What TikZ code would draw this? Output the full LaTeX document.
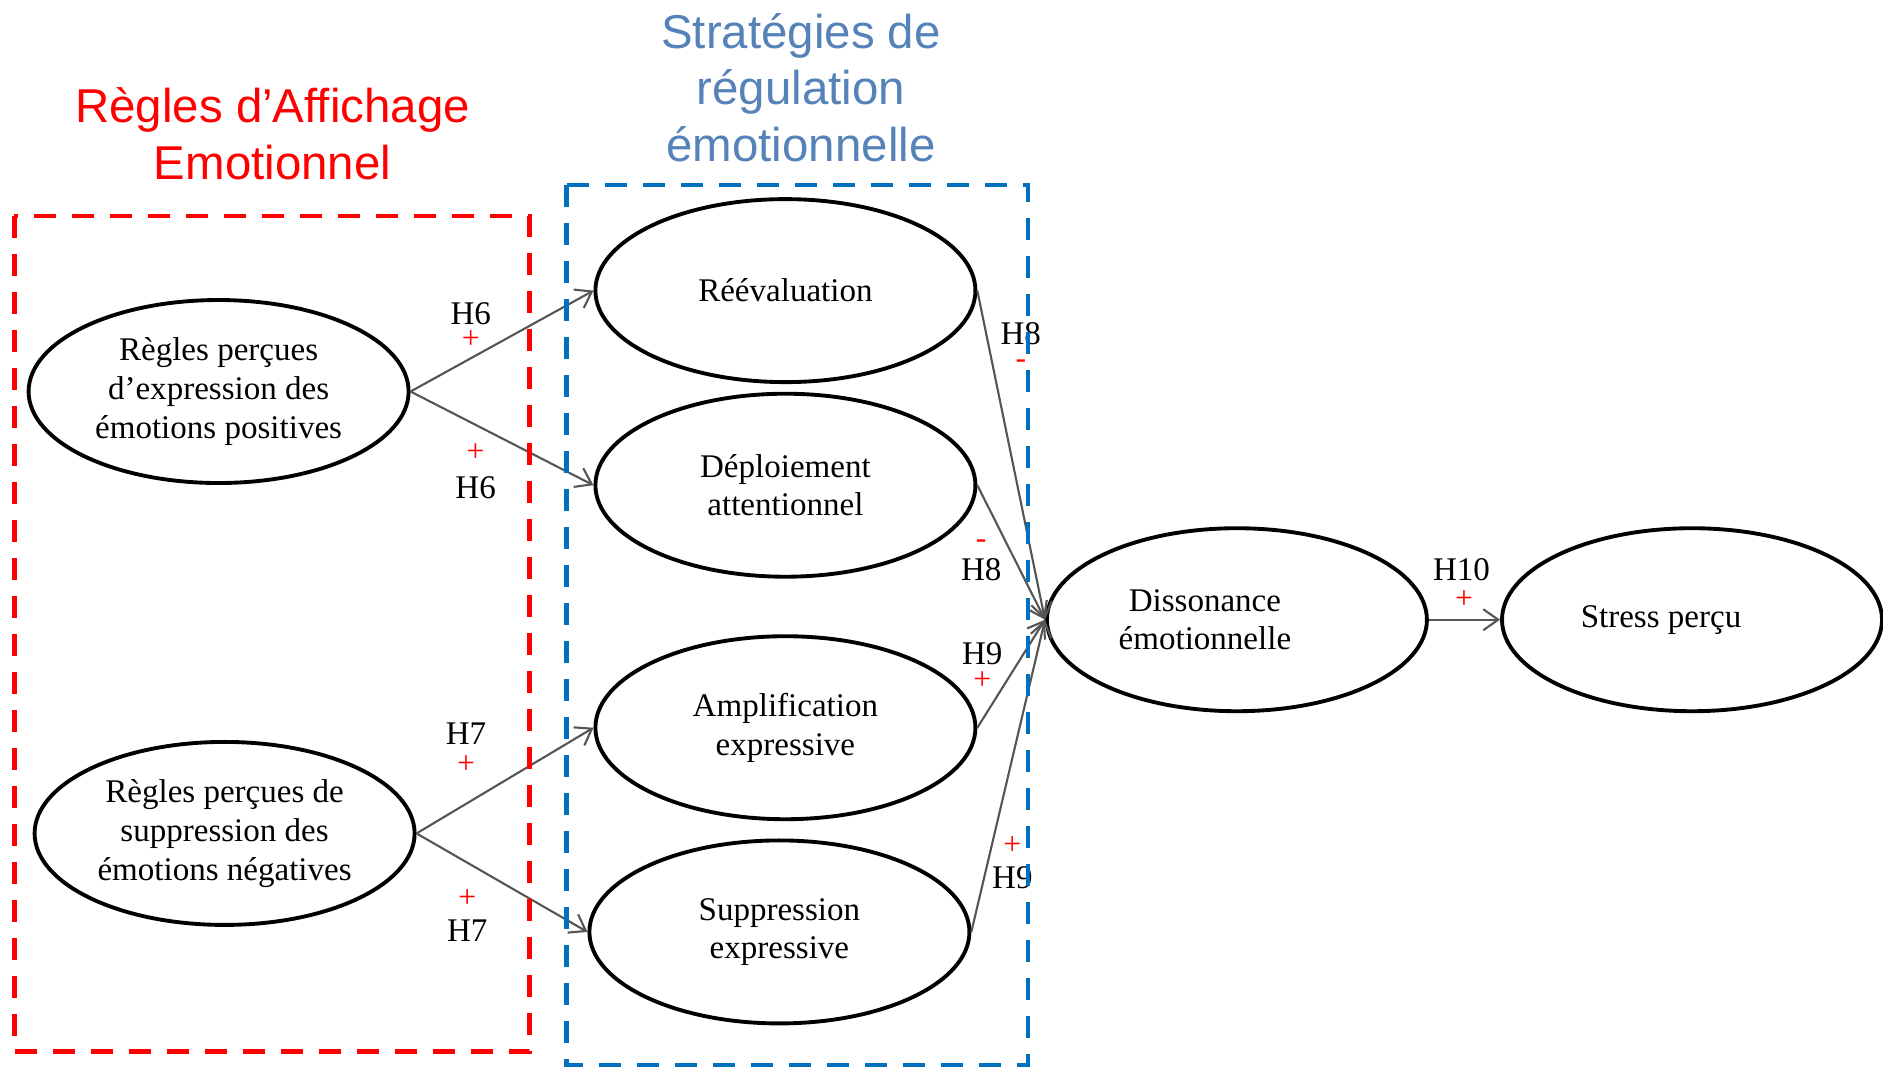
\documentclass[tikz,border=0pt]{standalone}
\usepackage{fontspec}
\setmainfont{Liberation Serif}
\newfontfamily\titlefont{Liberation Sans}
\usetikzlibrary{shapes.geometric,arrows.meta,positioning}
\definecolor{rulered}{RGB}{255,0,0}
\definecolor{boxblue}{RGB}{0,112,192}
\definecolor{titleblue}{RGB}{84,130,185}
\definecolor{linkgray}{RGB}{85,85,85}

\begin{document}
\begin{tikzpicture}[
    construct/.style={ellipse, draw, line width=1.1pt, minimum width=3.8cm, minimum height=1.83cm, inner sep=0pt, align=center, font=\fontsize{9.4}{11}\selectfont},
    inlabel/.style={align=center, inner sep=0pt, font=\fontsize{9.4}{11}\selectfont},
    link/.style={-{Straight Barb[length=1.5mm,width=2.1mm]}, linkgray, line width=0.6pt},
    hlab/.style={inner sep=0pt, font=\fontsize{9.4}{11}\selectfont},
    sign/.style={inner sep=0pt, text=rulered, font=\fontsize{9}{9}\selectfont},
    grouptitle/.style={align=center, font=\titlefont\fontsize{13.5}{16.2}\selectfont},
    groupbox/.style={line width=1.4pt, dash pattern=on 0.22cm off 0.16cm}
]
    \useasboundingbox (0,0) rectangle (18.83,-10.67);

    % Group titles
    \node[grouptitle, text=rulered] (ruletitle) at (2.726,-1.339) {Règles d’Affichage\\Emotionnel};
    \node[grouptitle, text=titleblue] (strattitle) at (8.01,-0.877) {Stratégies de\\régulation\\émotionnelle};

    % Display rules
    \node[construct] (posexp) at (2.186,-3.915) {Règles perçues\\d’expression des\\émotions positives};
    \node[construct] (negsup) at (2.246,-8.334) {Règles perçues de\\suppression des\\émotions négatives};

    % Regulation strategies
    \node[construct] (reeval) at (7.854,-2.906) {Réévaluation};
    \node[construct] (deploy) at (7.854,-4.852) {Déploiement\\attentionnel};
    \node[construct] (ampli) at (7.854,-7.277) {Amplification\\expressive};
    \node[construct] (suppr) at (7.794,-9.319) {Suppression\\expressive};

    % Outcomes (text sits left of centre)
    \node[construct] (disso) at (12.369,-6.197) {};
    \node[inlabel] (dissotext) at ([xshift=-0.32cm]disso.center) {Dissonance\\émotionnelle};
    \node[construct] (stress) at (16.92,-6.197) {};
    \node[inlabel] (stresstext) at ([xshift=-0.31cm]stress.center) {Stress perçu};

    % Paths
    \draw[link] (posexp.east) -- (reeval.west);
    \draw[link] (posexp.east) -- (deploy.west);
    \draw[link] (negsup.east) -- (ampli.west);
    \draw[link] (negsup.east) -- (suppr.west);
    \foreach \s in {reeval,deploy,ampli,suppr} {
        \draw[link] (\s.east) -- (disso.west);
    }
    \draw[link] (disso.east) -- (stress.west);

    % Hypothesis labels
    \foreach \n/\x/\y/\t in {
        a/4.707/-3.134/H6, b/4.756/-4.876/H6,
        c/4.66/-7.338/H7, d/4.672/-9.307/H7,
        e/10.208/-3.338/H8, f/9.812/-5.692/H8,
        g/9.823/-6.533/H9, h/10.124/-8.779/H9,
        i/14.615/-5.692/H10
    } {
        \node[hlab] (hyp\n) at (\x,\y) {\t};
    }

    % Signs
    \foreach \n/\x/\y/\t in {
        a/4.707/-3.399/+, b/4.756/-4.527/+,
        c/4.66/-7.65/+, d/4.672/-8.983/+,
        e/10.208/-3.639/-, f/9.812/-5.44/-,
        g/9.823/-6.81/+, h/10.124/-8.454/+,
        i/14.639/-5.993/+
    } {
        \node[sign] (sign\n) at (\x,\y) {\t};
    }

    % Dashed groups
    \draw[groupbox, rulered] (0.144,-2.16) rectangle (5.296,-10.517);
    \draw[groupbox, boxblue] (5.668,-1.85) rectangle (10.28,-10.65);
\end{tikzpicture}
\end{document}
